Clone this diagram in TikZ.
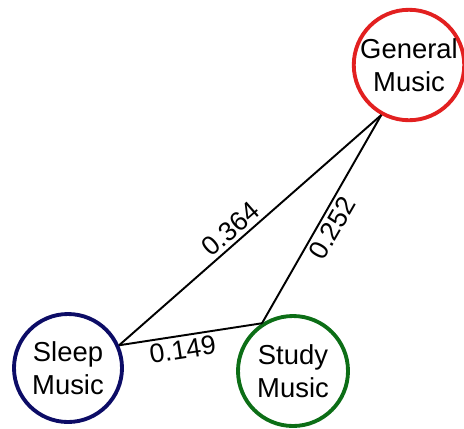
\documentclass[tikz,border=0pt]{standalone}
\usepackage{fontspec}
\setmainfont{Liberation Sans}
\definecolor{genred}{RGB}{226,32,32}
\definecolor{sleepblue}{RGB}{12,12,102}
\definecolor{studygreen}{RGB}{12,110,22}
\tikzset{
	topic/.style={circle, draw, line width=2.2pt, align=center, inner sep=0pt,
		font=\fontsize{15.6}{18.5}\selectfont},
	weight/.style={sloped, font=\fontsize{15.2}{18}\selectfont, inner sep=2pt}
}

\begin{document}
\begin{tikzpicture}
			\useasboundingbox (0,0) rectangle (9.28,8.56);
			\node [topic, draw=genred, minimum size=2.14cm] (general) at (8.18,7.26) {General\\Music};
			\node [topic, draw=sleepblue, minimum size=2.16cm] (sleep) at (1.36,1.20) {Sleep\\Music};
			\node [topic, draw=studygreen, minimum size=2.2cm] (study) at (5.86,1.14) {Study\\Music};
			\draw [line width=1.1pt] (sleep.24) -- node [weight, above, pos=.46] {0.364} (general.241);
			\draw [line width=1.1pt] (study.123) -- node [weight, below, pos=.49] {0.252} (general.241);
			\draw [line width=1.1pt] (sleep.24) -- node [weight, below, pos=.43] {0.149} (study.123);
		\end{tikzpicture}
\end{document}
